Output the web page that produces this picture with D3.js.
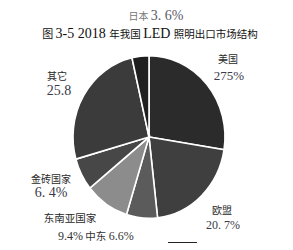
<!DOCTYPE html>
<html>
<head>
<meta charset="utf-8">
<script src="https://cdn.jsdelivr.net/npm/d3@7"></script>
<style>
  body { margin: 0; background: #fff; }
  svg { display: block; }
  .cjk { font-family: "Noto Sans CJK SC", sans-serif; }
  .num { font-family: "Liberation Serif", "DejaVu Serif", serif; }
</style>
</head>
<body>
<script>
// chart data, clockwise from 12 o'clock
var categories = ['美国', '欧盟', '中东', '东南亚国家', '金砖国家', '其它', '日本'];
var shares = [27.5, 20.7, 6.6, 9.4, 6.4, 25.8, 3.6];
var shareLabels = ['275%', '20. 7%', '6.6%', '9.4%', '6. 4%', '25.8', '3. 6%'];
var sliceColors = ['#2b2b2b', '#3f3f3f', '#5b5b5b', '#8c8c8c', '#474747', '#3b3b3b', '#1f1f1f'];

var w = 293;
var h = 250;

var svg = d3.select('body')
  .append('svg')
  .attr('width', w)
  .attr('height', h);

// pie (scan is slightly taller than wide)
var pie = d3.pie().sort(null).value(function(d) { return d; });
var arc = d3.arc().innerRadius(0).outerRadius(76);

var g = svg.append('g')
  .attr('transform', 'translate(149,137) scale(1,1.07)');

g.selectAll('path')
  .data(pie(shares))
  .enter()
  .append('path')
  .attr('d', arc)
  .attr('fill', function(d, i) { return sliceColors[i]; })
  .attr('stroke', '#fff')
  .attr('stroke-width', 1.6);

// title
var title = svg.append('text')
  .attr('x', 150)
  .attr('y', 38)
  .attr('text-anchor', 'middle')
  .attr('fill', '#111');
title.append('tspan').attr('class', 'cjk').attr('font-size', 11).text('图 ');
title.append('tspan').attr('class', 'num').attr('font-size', 14).text('3-5 2018 ');
title.append('tspan').attr('class', 'cjk').attr('font-size', 10.5).text('年我国 ');
title.append('tspan').attr('class', 'num').attr('font-size', 14).text('LED ');
title.append('tspan').attr('class', 'cjk').attr('font-size', 10.5).text('照明出口市场结构');

// label layout: [name x, name y, value x, value y]
var labelPos = [
  [228, 63, 229, 80],
  [222, 214, 223, 229],
  null,
  null,
  [51, 183, 51, 197],
  [57, 80, 59, 95],
  null
];
var valueSizes = [13, 12, 11, 11, 14, 14, 14];

categories.forEach(function(c, i) {
  var p = labelPos[i];
  if (!p) return;
  svg.append('text')
    .attr('class', 'cjk')
    .attr('x', p[0]).attr('y', p[1])
    .attr('text-anchor', 'middle')
    .attr('font-size', 10)
    .attr('fill', '#2a2a2a')
    .text(c);
  svg.append('text')
    .attr('class', 'num')
    .attr('x', p[2]).attr('y', p[3])
    .attr('text-anchor', 'middle')
    .attr('font-size', valueSizes[i])
    .attr('fill', '#3a3a4a')
    .text(shareLabels[i]);
});

// 日本 above title
var jp = svg.append('text')
  .attr('x', 156).attr('y', 20)
  .attr('text-anchor', 'middle');
jp.append('tspan').attr('class', 'cjk').attr('font-size', 10).attr('fill', '#777').text(categories[6] + ' ');
jp.append('tspan').attr('class', 'num').attr('font-size', 14).attr('fill', '#5a5a6a').text(shareLabels[6]);

// 东南亚国家 / 中东
svg.append('text')
  .attr('class', 'cjk')
  .attr('x', 70).attr('y', 222)
  .attr('text-anchor', 'middle')
  .attr('font-size', 10.5)
  .attr('fill', '#2a2a2a')
  .text(categories[3]);

var me = svg.append('text')
  .attr('x', 58).attr('y', 240)
  .attr('fill', '#333');
me.append('tspan').attr('class', 'num').attr('font-size', 12).text(shareLabels[3]);
me.append('tspan').attr('class', 'cjk').attr('font-size', 10.5).text(' ' + categories[2] + '  ');
me.append('tspan').attr('class', 'num').attr('font-size', 12).text(shareLabels[2]);

// short rule at bottom
svg.append('line')
  .attr('x1', 168).attr('x2', 197)
  .attr('y1', 242.5).attr('y2', 242.5)
  .attr('stroke', '#222')
  .attr('stroke-width', 1);
</script>
</body>
</html>
